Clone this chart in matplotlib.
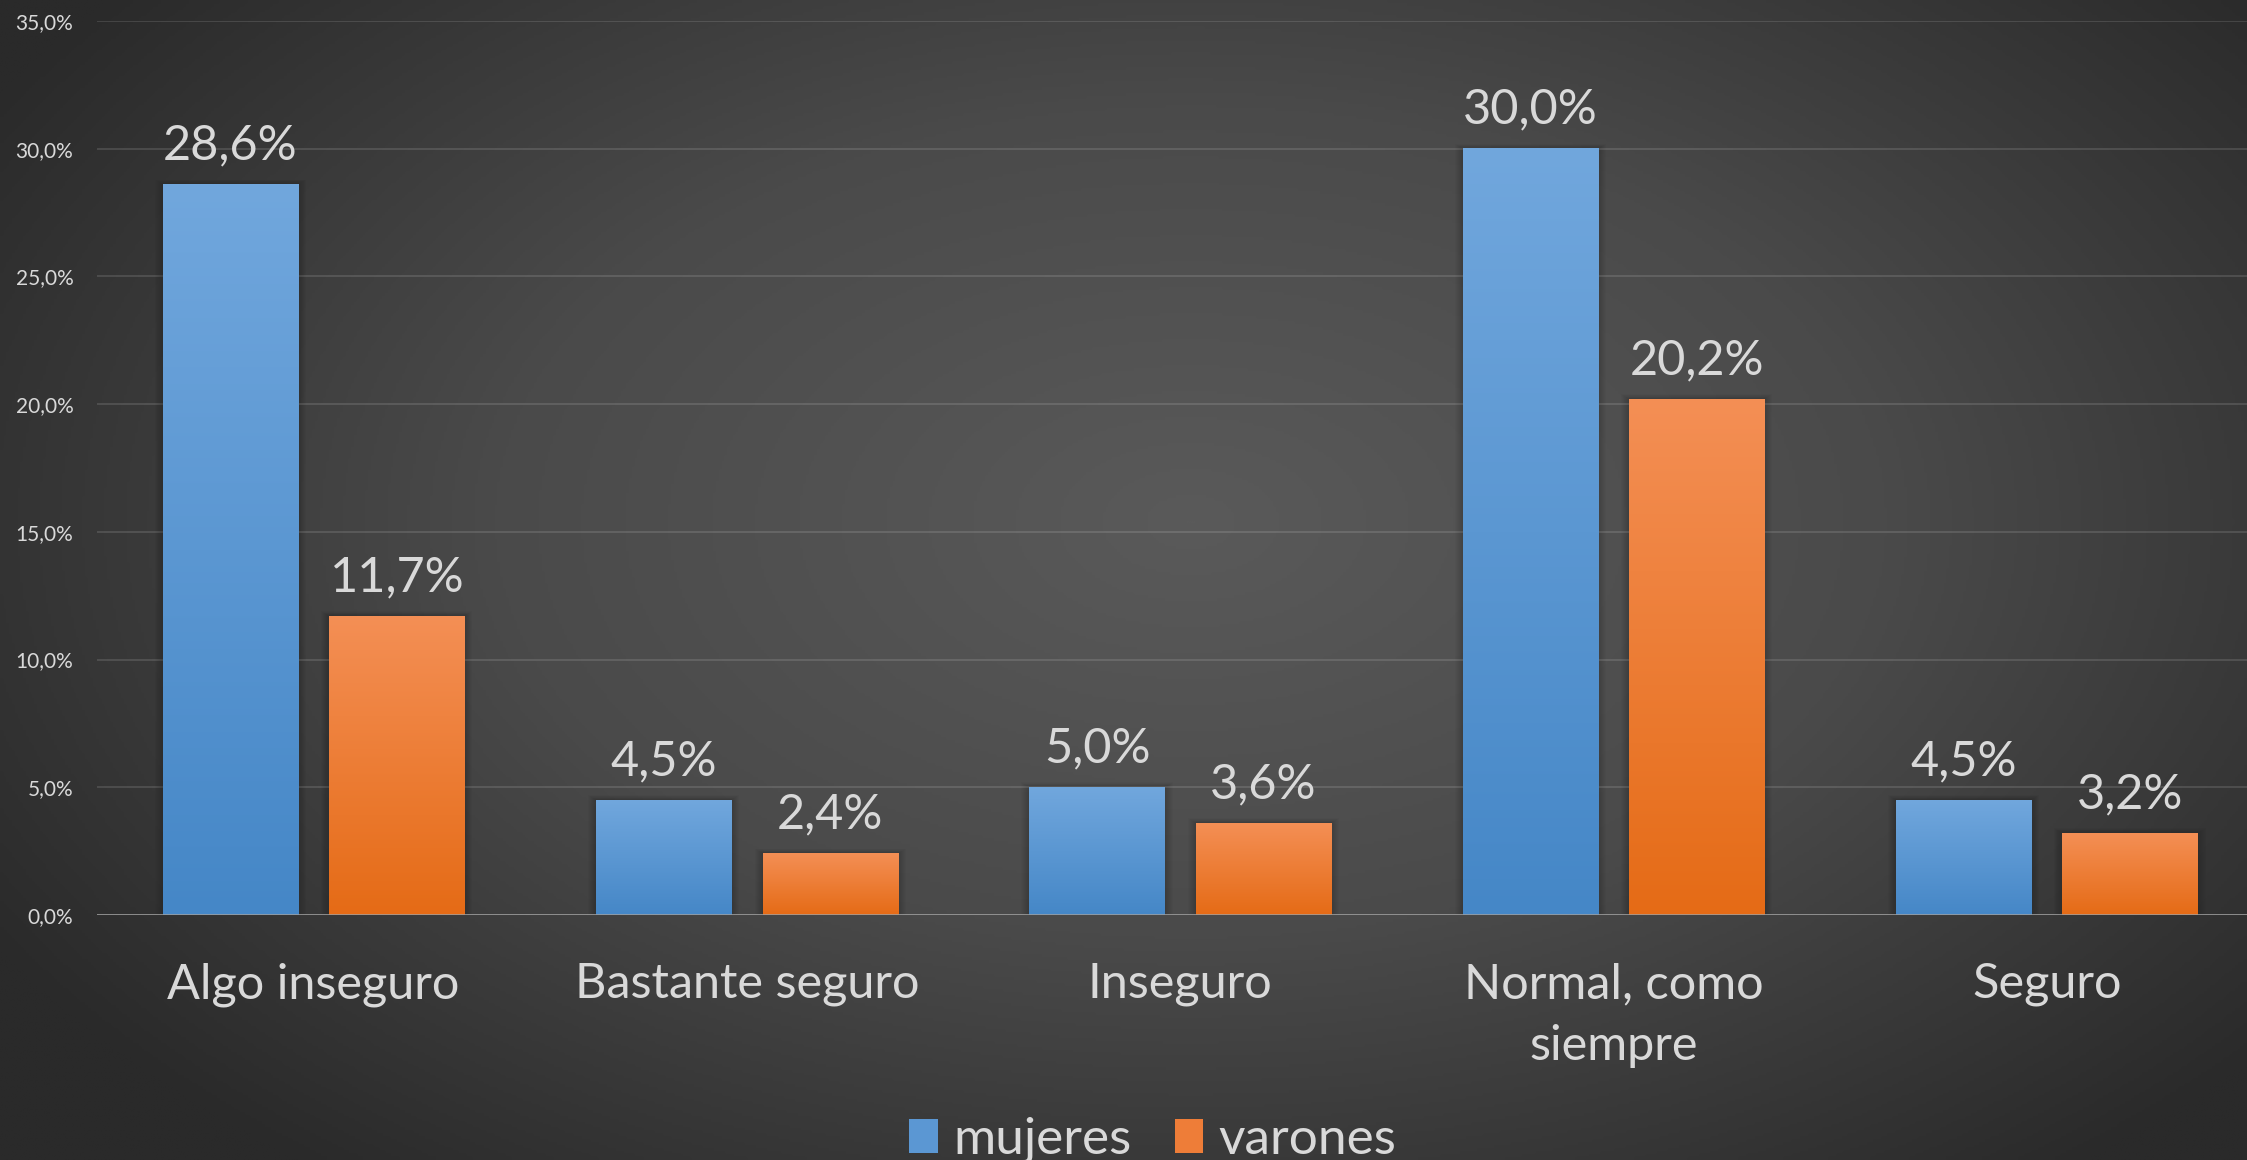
import numpy as np
import matplotlib
matplotlib.use("Agg")
import matplotlib.pyplot as plt
from matplotlib.patches import Patch, Rectangle
from matplotlib.ticker import FuncFormatter
from matplotlib.colors import LinearSegmentedColormap

# data
categorias = ["Algo inseguro", "Bastante seguro", "Inseguro", "Normal, como\nsiempre", "Seguro"]
mujeres = [28.6, 4.5, 5.0, 30.0, 4.5]
varones = [11.7, 2.4, 3.6, 20.2, 3.2]
series = ["mujeres", "varones"]

TXT = "#D9D9D9"
plt.rcParams["font.family"] = ["Lato", "DejaVu Sans"]

W, H, DPI = 2247, 1160, 100
CAT_W = 433.3  # px per category


def pct(v, pos=None):
    return f"{v:.1f}%".replace(".", ",")


fig = plt.figure(figsize=(W / DPI, H / DPI), dpi=DPI)

# radial background
bg = fig.add_axes([0, 0, 1, 1], zorder=-10)
yy, xx = np.mgrid[0:1:400j, 0:1:800j]
r = np.sqrt(((xx - 0.53) / 0.62) ** 2 + ((yy - 0.45) / 0.72) ** 2)
r = np.clip(r, 0, 1)
bg_cmap = LinearSegmentedColormap.from_list("bg", ["#5a5a5a", "#4a4a4a", "#2a2a2a"])
bg.imshow(r, cmap=bg_cmap, aspect="auto", extent=[0, 1, 1, 0], vmin=0, vmax=1)
bg.set_axis_off()

n = len(categorias)
ax = fig.add_axes([97 / W, 1 - 915 / H, n * CAT_W / W, (915 - 21) / H])
ax.patch.set_alpha(0)

x = np.arange(n)
bw = 0.312
off = 0.192
blue_cmap = LinearSegmentedColormap.from_list("b", ["#4587C7", "#71A7DD"])
orange_cmap = LinearSegmentedColormap.from_list("o", ["#E56B16", "#F48F55"])

ax.set_xlim(-0.5, n - 0.5)
ax.set_ylim(0, 35)

px_x = 1 / CAT_W
px_y = 35 / (915 - 21)

grad = np.linspace(0, 1, 256).reshape(-1, 1)
for vals, dx, cmap in [(mujeres, -off, blue_cmap), (varones, off, orange_cmap)]:
    bars = ax.bar(x + dx, vals, bw, color="none", zorder=3)
    for b, v in zip(bars, vals):
        x0, w, h = b.get_x(), b.get_width(), b.get_height()
        # soft shadow
        for k in range(1, 9):
            ax.add_patch(Rectangle((x0 - k * px_x, 0), w + 2 * k * px_x, h + k * px_y * 0.6,
                                   facecolor="black", edgecolor="none", alpha=0.018, zorder=2))
        ax.imshow(grad, cmap=cmap, extent=[x0, x0 + w, 0, h], origin="lower",
                  aspect="auto", zorder=3)
        ax.annotate(pct(v), xy=(x0 + w / 2, h), xytext=(0, 18), textcoords="offset points",
                    ha="center", va="baseline", fontsize=35, color=TXT, zorder=5)

ax.set_yticks(np.arange(0, 36, 5))
ax.yaxis.set_major_formatter(FuncFormatter(pct))
ax.set_xticks(x)
ax.set_xticklabels(categorias, fontsize=35, color=TXT, linespacing=1.5)
ax.tick_params(axis="x", length=0, pad=34)
ax.tick_params(axis="y", length=0, pad=17, labelsize=15, labelcolor=TXT)
ax.grid(axis="y", color="white", alpha=0.12, linewidth=1.5, zorder=0)
ax.set_axisbelow(True)
for s in ax.spines.values():
    s.set_visible(False)
ax.axhline(0, color="#A0A0A0", linewidth=1.8, zorder=4)

handles = [Patch(facecolor="#5B97D3", edgecolor="none"), Patch(facecolor="#EE7D38", edgecolor="none")]
fig.legend(handles, series, loc="center", bbox_to_anchor=(1153 / W, 1 - 1140 / H), ncol=2,
           frameon=False, fontsize=37, labelcolor=TXT, handlelength=0.55, handleheight=0.65,
           handletextpad=0.3, columnspacing=0.85, borderpad=0)

fig.savefig("out.png", dpi=DPI)
